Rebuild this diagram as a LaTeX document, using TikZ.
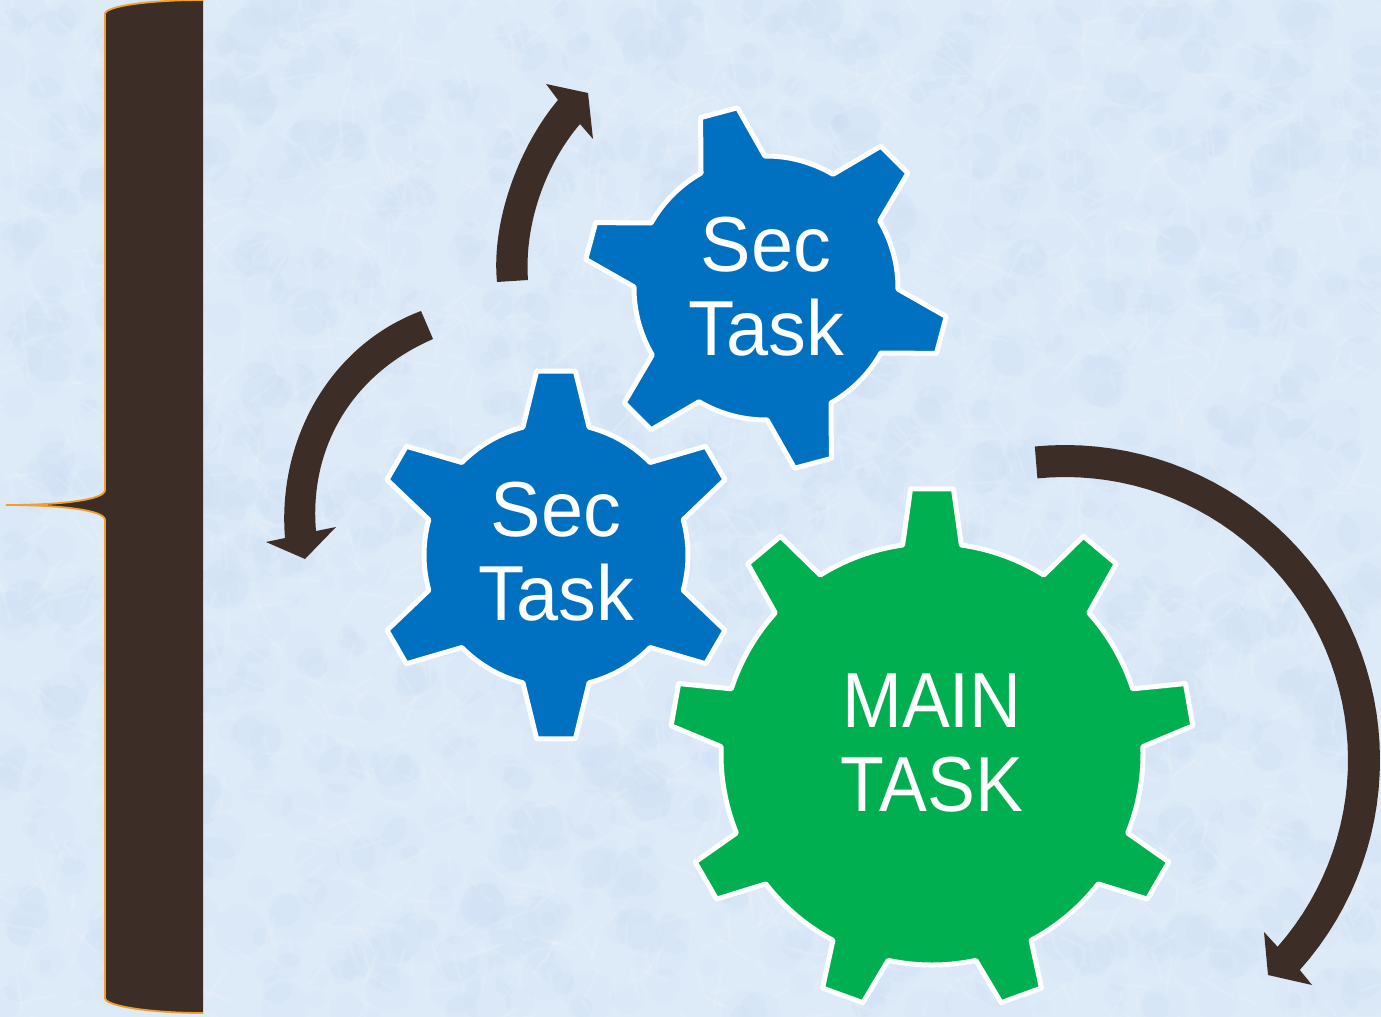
\documentclass[tikz,border=0pt]{standalone}
\usepackage{fontspec}
\newfontfamily\secfont[FakeStretch=.97]{Liberation Sans}
\newfontfamily\mainfont[FakeStretch=.92]{Liberation Sans}
\definecolor{skyback}{HTML}{DDEAF8}
\definecolor{skydark}{HTML}{BCD3EC}
\definecolor{barkbrown}{HTML}{3C2E26}
\definecolor{braceorange}{HTML}{F0A028}
\definecolor{secblue}{HTML}{0070C0}
\definecolor{maingreen}{HTML}{00B050}
\tikzset{
  gearshape/.style={draw=white,line width=5pt,line join=round},
  seclabel/.style={text=white,align=center,inner sep=0pt,
    font=\secfont\fontsize{78}{84}\selectfont},
  mainlabel/.style={text=white,align=center,inner sep=0pt,
    font=\mainfont\fontsize{78}{84}\selectfont},
  bentarrow/.style={fill=barkbrown}
}
% center, first tooth, teeth, inner radius, tip radius, base and tip half angles, tip lift
\newcommand{\drawgear}[9]{
  \begin{scope}[shift={#2}]
    \pgfmathsetmacro\gearstep{360/#4}
    \pgfmathtruncatemacro\gearlast{#4-1}
    \draw[gearshape,fill=#1] ({#3-#7}:#5)
      \foreach \i in {0,...,\gearlast} {
        -- ([yshift=#9pt]{#3+\i*\gearstep-#8}:#6) -- ([yshift=#9pt]{#3+\i*\gearstep+#8}:#6)
        -- ({#3+\i*\gearstep+#7}:#5)
        arc[start angle={#3+\i*\gearstep+#7},delta angle={\gearstep-2*#7},radius=#5]
      } -- cycle;
  \end{scope}
}
\begin{document}
\begin{tikzpicture}[x=1pt,y=-1pt]
  \useasboundingbox (0,0) rectangle (1381,1017);
  \fill[skyback] (0,0) rectangle (1381,1017);
  \pgfmathsetseed{11}
  \foreach \i in {1,...,1500} {
    \pgfmathsetmacro\blobx{rnd*1381}
    \pgfmathsetmacro\bloby{rnd*1017}
    \pgfmathsetmacro\blobr{6+rnd*20}
    \fill[skydark,opacity=.07] (\blobx,\bloby) circle[radius=\blobr];
    \pgfmathsetmacro\blobx{rnd*1381}
    \pgfmathsetmacro\bloby{rnd*1017}
    \pgfmathsetmacro\blobr{rnd*360}
    \pgfmathsetmacro\bloblen{12+rnd*30}
    \draw[white,opacity=.12,line width=3pt,line cap=round] (\blobx,\bloby) -- ++(\blobr:\bloblen);
  }

  \fill[barkbrown] (203,0) .. controls (150,0) and (105,6) .. (105,14) -- (105,490)
    .. controls (105,500) and (60,505) .. (6,505)
    .. controls (60,505) and (105,510) .. (105,520) -- (105,998)
    .. controls (105,1006) and (150,1013) .. (203,1013) -- cycle;
  \draw[braceorange,line width=1.8pt] (203,0) .. controls (150,0) and (105,6) .. (105,14) -- (105,490)
    .. controls (105,500) and (60,505) .. (6,505)
    .. controls (60,505) and (105,510) .. (105,520) -- (105,998)
    .. controls (105,1006) and (150,1013) .. (203,1013);

  \fill[bentarrow] (497,282) .. controls (491,220) and (520,145) .. (558,100)
    -- (546,84) -- (588,93) -- (593,139) -- (580,124)
    .. controls (545,165) and (524,225) .. (528,280) -- cycle;
  \fill[bentarrow] (421,311) .. controls (330,345) and (277,440) .. (285,538)
    -- (266,542) -- (305,559) -- (336,527) -- (316,531)
    .. controls (309,450) and (350,375) .. (433,339) -- cycle;
  \fill[bentarrow] plot[domain=-95.5:41.8,samples=50] ({1065+315*cos(\x)},{760+315*sin(\x)})
    -- (1312,985) -- (1268,975) -- (1264,932)
    -- plot[domain=41.3:-95.6,samples=50] ({1065+283*cos(\x)},{760+283*sin(\x)}) -- cycle;

  \drawgear{secblue}{(556,555)}{-90}{6}{132}{185}{14.5}{6}{0}
  \drawgear{secblue}{(766,288)}{-105}{6}{132}{182.5}{14.5}{6}{0}
  \drawgear{maingreen}{(932,754)}{-90}{9}{211}{262}{8}{4.7}{4}

  \node[seclabel] (seclow) at (556,552) {Sec\\Task};
  \node[seclabel] (secup) at (766,287) {Sec\\Task};
  \node[mainlabel] (maintask) at (932,743) {MAIN\\TASK};
\end{tikzpicture}
\end{document}
